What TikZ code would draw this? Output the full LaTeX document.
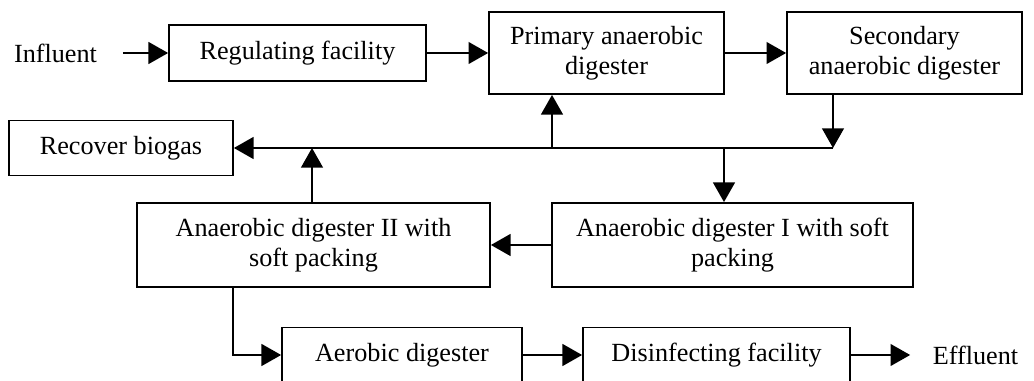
\documentclass[tikz,border=0pt]{standalone}
\usepackage{fontspec}
\setmainfont{Liberation Serif}
\usetikzlibrary{arrows.meta,positioning}
\tikzset{>={Triangle[length=9pt,width=10pt]}}
\tikzset{unit/.style={draw,align=center,inner sep=2pt,font=\fontsize{12}{13.8}\selectfont},
         endtext/.style={inner sep=0pt,font=\fontsize{12}{13.8}\selectfont}}

\begin{document}
\begin{tikzpicture}[x=0.458pt,y=-0.458pt,line width=0.8pt]
    \clip (0,0) rectangle (1034,381);
    \node[endtext] (in) at (55.5,53) {Influent};
    \node[unit,minimum width=117.7pt,minimum height=25.6pt] (reg) at (297.5,53) {Regulating facility};
    \node[unit,minimum width=107.6pt,minimum height=37.6pt] (prim) at (606.5,53) {Primary anaerobic\\digester};
    \node[unit,minimum width=107.6pt,minimum height=37.6pt] (sec) at (904.5,53) {Secondary\\anaerobic digester};
    \node[unit,minimum width=102.6pt,minimum height=25.2pt] (bio) at (121,148) {Recover biogas};
    \node[unit,minimum width=161.7pt,minimum height=38.5pt] (ad2) at (313.5,245) {Anaerobic digester II with\\soft packing};
    \node[unit,minimum width=165.3pt,minimum height=38.5pt] (ad1) at (732.5,245) {Anaerobic digester I with soft\\packing};
    \node[unit,minimum width=109.9pt,minimum height=25.2pt] (aer) at (402,355) {Aerobic digester};
    \node[unit,minimum width=122.3pt,minimum height=25.2pt] (dis) at (716.5,355) {Disinfecting facility};
    \node[endtext,anchor=west] (out) at (932,355) {Effluent};
    % gas line
    \coordinate (j1) at (833,148);
    \coordinate (j2) at (552,148);
    \coordinate (j3) at (724,148);
    \coordinate (j4) at (312,148);
    \coordinate (k) at (233,287);
    \path[->]
        (in) edge[shorten <=11.5pt] (reg)
        (reg) edge (prim)
        (prim) edge (sec)
        (sec.south -| j1) edge (j1)
        (j1) edge (bio.east)
        (j2) edge (j2 |- prim.south)
        (j3) edge (j3 |- ad1.north)
        (ad2.north -| j4) edge (j4)
        (ad1) edge (ad2)
        (aer) edge (dis)
        (dis) edge[shorten >=10pt] (out)
    ;
    \draw[->] (k) |- (aer);
\end{tikzpicture}
\end{document}
